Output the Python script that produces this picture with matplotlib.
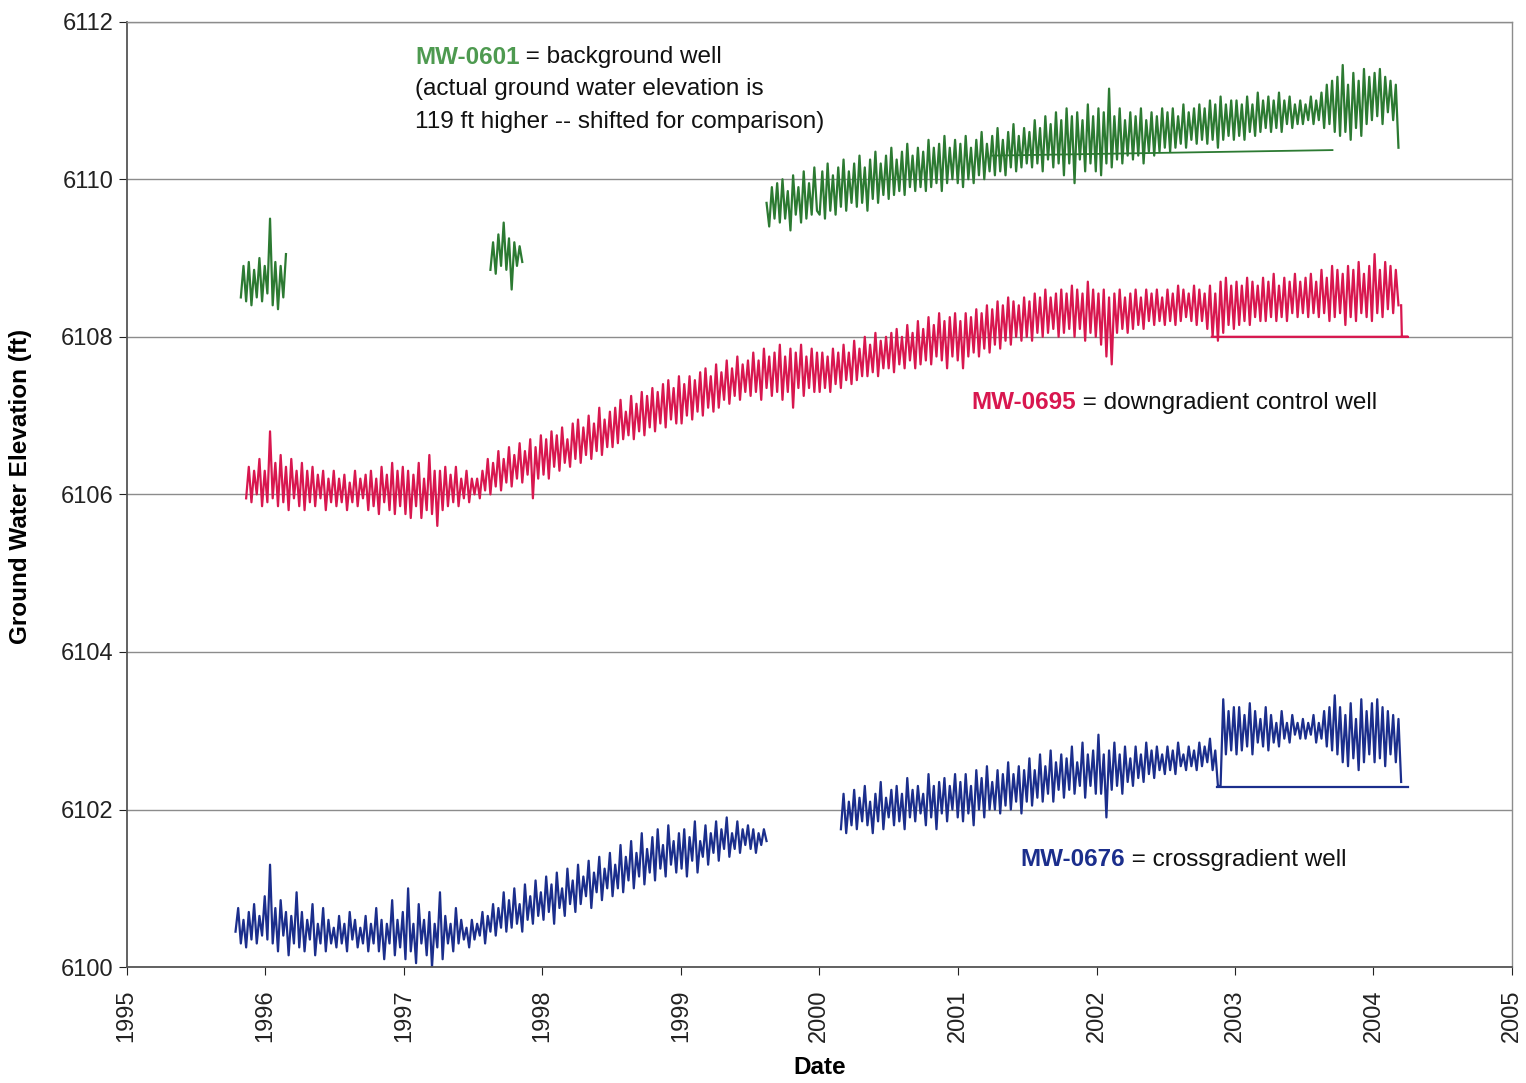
import matplotlib
matplotlib.use('Agg')
import matplotlib.pyplot as plt
import matplotlib.dates as mdates
import pandas as pd

plt.rcParams['font.family'] = ['Liberation Sans', 'DejaVu Sans']

green_c = '#2c7a32'
green_txt = '#4e9a50'
red_c = '#d8174f'
blue_c = '#1b2e8c'

# MW-0601 (shifted by -119 ft), weekly readings, three pieces
green1_start = '1995-10-29'
green1_vals = [6108.5, 6108.9, 6108.45, 6108.95, 6108.4, 6108.85, 6108.5, 6109.0, 6108.45,
               6108.9, 6108.55, 6109.5, 6108.4, 6108.95, 6108.35, 6108.9, 6108.5, 6109.05]
green2_start = '1997-08-17'
green2_vals = [6108.85, 6109.2, 6108.8, 6109.3, 6108.9, 6109.45, 6108.85, 6109.25, 6108.6,
               6109.2, 6108.9, 6109.15, 6108.95]
green3_start = '1999-08-15'
green3_vals = [
    6109.7, 6109.4, 6109.9, 6109.5, 6109.95, 6109.45, 6110.0, 6109.5, 6109.85, 6109.35,
    6110.05, 6109.55, 6109.9, 6109.45, 6110.1, 6109.5, 6109.95, 6109.55, 6110.15, 6109.6,
    # 2000
    6109.55, 6110.1, 6109.5, 6110.2, 6109.6, 6110.05, 6109.55, 6110.15, 6109.65, 6110.25, 6109.6, 6110.1, 6109.7,
    6110.2, 6109.65, 6110.3, 6109.7, 6110.15, 6109.6, 6110.25, 6109.75, 6110.35, 6109.7, 6110.2, 6109.8, 6110.3,
    6109.75, 6110.4, 6109.8, 6110.25, 6109.85, 6110.35, 6109.8, 6110.45, 6109.9, 6110.3, 6109.85, 6110.4, 6109.9,
    6110.35, 6109.85, 6110.5, 6109.9, 6110.4, 6109.95, 6110.45, 6109.85, 6110.55, 6109.95, 6110.4, 6110.0, 6110.5,
    # 2001
    6109.95, 6110.45, 6109.9, 6110.55, 6110.0, 6110.4, 6109.95, 6110.5, 6110.05, 6110.6, 6110.0, 6110.45, 6110.1,
    6110.55, 6110.05, 6110.65, 6110.1, 6110.5, 6110.05, 6110.6, 6110.15, 6110.7, 6110.1, 6110.55, 6110.15, 6110.65,
    6110.2, 6110.6, 6110.15, 6110.75, 6110.2, 6110.65, 6110.1, 6110.8, 6110.25, 6110.7, 6110.15, 6110.85, 6110.2,
    6110.75, 6110.05, 6110.9, 6110.2, 6110.8, 6109.95, 6110.85, 6110.25, 6110.75, 6110.1, 6110.95, 6110.2, 6110.8,
    # 2002
    6110.1, 6110.9, 6110.05, 6110.85, 6110.2, 6111.15, 6110.15, 6110.8, 6110.25, 6110.9, 6110.2, 6110.75, 6110.3,
    6110.85, 6110.25, 6110.8, 6110.3, 6110.9, 6110.2, 6110.75, 6110.35, 6110.85, 6110.3, 6110.8, 6110.35, 6110.9,
    6110.4, 6110.85, 6110.35, 6110.9, 6110.4, 6110.8, 6110.45, 6110.95, 6110.4, 6110.85, 6110.5, 6110.9, 6110.45,
    6110.95, 6110.5, 6110.9, 6110.45, 6111.0, 6110.5, 6110.95, 6110.4, 6111.05, 6110.5, 6110.95, 6110.55, 6111.0,
    # 2003
    6110.5, 6111.0, 6110.55, 6110.95, 6110.5, 6111.05, 6110.6, 6110.95, 6110.55, 6111.1, 6110.6, 6111.0, 6110.65,
    6111.05, 6110.6, 6111.0, 6110.65, 6111.1, 6110.6, 6111.0, 6110.7, 6111.05, 6110.65, 6110.95, 6110.7, 6111.0,
    6110.7, 6110.95, 6110.75, 6111.05, 6110.7, 6111.0, 6110.75, 6111.1, 6110.65, 6111.2, 6110.7, 6111.25, 6110.6,
    6111.3, 6110.55, 6111.45, 6110.6, 6111.2, 6110.5, 6111.35, 6110.65, 6111.25, 6110.55, 6111.4, 6110.7, 6111.3,
    # 2004
    6110.75, 6111.35, 6110.8, 6111.4, 6110.7, 6111.3, 6110.85, 6111.25, 6110.75, 6111.2, 6110.4]
green_flat_dates = ['2001-04-01', '2003-09-15']
green_flat_vals = [6110.3, 6110.37]

# MW-0695, weekly
red_start = '1995-11-12'
red_vals = [
    6105.95, 6106.35, 6105.9, 6106.3, 6106.0, 6106.45, 6105.85, 6106.3,
    # 1996
    6105.9, 6106.8, 6105.95, 6106.4, 6105.85, 6106.5, 6105.9, 6106.35, 6105.8, 6106.45, 6105.95, 6106.3, 6105.85,
    6106.4, 6105.8, 6106.3, 6105.9, 6106.35, 6105.85, 6106.25, 6105.95, 6106.3, 6105.8, 6106.2, 6105.9, 6106.3,
    6105.85, 6106.2, 6105.9, 6106.25, 6105.8, 6106.15, 6105.9, 6106.3, 6105.85, 6106.2, 6105.95, 6106.25, 6105.8,
    6106.3, 6105.85, 6106.2, 6105.75, 6106.35, 6105.9, 6106.25, 6105.8, 6106.4, 6105.75, 6106.3, 6105.85, 6106.35,
    # 1997
    6105.75, 6106.3, 6105.7, 6106.25, 6105.85, 6106.4, 6105.7, 6106.2, 6105.8, 6106.5, 6105.75, 6106.3, 6105.6,
    6106.3, 6105.8, 6106.35, 6105.85, 6106.25, 6105.9, 6106.35, 6105.85, 6106.2, 6105.95, 6106.3, 6105.9, 6106.2,
    6106.0, 6106.2, 6105.95, 6106.3, 6106.05, 6106.45, 6106.0, 6106.4, 6106.1, 6106.55, 6106.05, 6106.45, 6106.15,
    6106.6, 6106.1, 6106.5, 6106.2, 6106.65, 6106.15, 6106.55, 6106.25, 6106.7, 6105.95, 6106.6, 6106.2, 6106.75,
    # 1998
    6106.25, 6106.7, 6106.2, 6106.8, 6106.35, 6106.75, 6106.3, 6106.85, 6106.4, 6106.7, 6106.35, 6106.9, 6106.45,
    6106.95, 6106.4, 6106.85, 6106.5, 6107.0, 6106.45, 6106.9, 6106.55, 6107.1, 6106.5, 6106.95, 6106.6, 6107.05,
    6106.6, 6107.1, 6106.65, 6107.2, 6106.7, 6107.05, 6106.75, 6107.25, 6106.7, 6107.15, 6106.8, 6107.3, 6106.75,
    6107.25, 6106.85, 6107.35, 6106.8, 6107.3, 6106.9, 6107.4, 6106.85, 6107.45, 6106.95, 6107.35, 6106.9, 6107.5,
    # 1999
    6106.9, 6107.4, 6107.0, 6107.5, 6106.95, 6107.45, 6107.05, 6107.55, 6107.0, 6107.6, 6107.1, 6107.5, 6107.05,
    6107.65, 6107.1, 6107.55, 6107.2, 6107.7, 6107.15, 6107.6, 6107.25, 6107.75, 6107.2, 6107.65, 6107.3, 6107.7,
    6107.25, 6107.8, 6107.3, 6107.7, 6107.2, 6107.85, 6107.35, 6107.75, 6107.25, 6107.8, 6107.3, 6107.9, 6107.2,
    6107.75, 6107.3, 6107.85, 6107.1, 6107.8, 6107.35, 6107.9, 6107.25, 6107.75, 6107.35, 6107.85, 6107.3, 6107.8,
    # 2000
    6107.3, 6107.8, 6107.35, 6107.75, 6107.3, 6107.85, 6107.4, 6107.8, 6107.35, 6107.9, 6107.45, 6107.8, 6107.4,
    6107.95, 6107.45, 6107.85, 6107.5, 6108.0, 6107.5, 6107.9, 6107.55, 6108.05, 6107.5, 6107.95, 6107.6, 6108.0,
    6107.6, 6108.05, 6107.55, 6108.1, 6107.65, 6108.0, 6107.6, 6108.15, 6107.7, 6108.05, 6107.6, 6108.2, 6107.65,
    6108.1, 6107.7, 6108.25, 6107.65, 6108.15, 6107.75, 6108.3, 6107.7, 6108.2, 6107.6, 6108.25, 6107.75, 6108.3,
    # 2001
    6107.7, 6108.2, 6107.6, 6108.3, 6107.75, 6108.25, 6107.8, 6108.35, 6107.75, 6108.3, 6107.85, 6108.4, 6107.8,
    6108.35, 6107.9, 6108.45, 6107.85, 6108.4, 6107.95, 6108.5, 6107.9, 6108.45, 6108.0, 6108.4, 6107.95, 6108.5,
    6108.0, 6108.45, 6107.95, 6108.55, 6108.05, 6108.5, 6108.0, 6108.6, 6108.05, 6108.5, 6108.1, 6108.55, 6108.0,
    6108.6, 6108.05, 6108.55, 6108.1, 6108.65, 6108.0, 6108.6, 6108.1, 6108.55, 6107.95, 6108.7, 6108.05, 6108.6,
    # 2002
    6108.0, 6108.55, 6107.9, 6108.6, 6107.75, 6108.5, 6107.65, 6108.55, 6108.05, 6108.6, 6108.1, 6108.5, 6108.05,
    6108.55, 6108.1, 6108.6, 6108.15, 6108.5, 6108.1, 6108.6, 6108.2, 6108.55, 6108.15, 6108.6, 6108.2, 6108.5,
    6108.15, 6108.6, 6108.2, 6108.55, 6108.15, 6108.65, 6108.2, 6108.6, 6108.25, 6108.55, 6108.2, 6108.65, 6108.15,
    6108.6, 6108.2, 6108.55, 6108.1, 6108.65, 6108.0, 6108.55, 6107.95, 6108.7, 6108.05, 6108.75, 6108.15, 6108.65,
    # 2003
    6108.1, 6108.7, 6108.15, 6108.65, 6108.2, 6108.75, 6108.15, 6108.7, 6108.25, 6108.65, 6108.2, 6108.75, 6108.2,
    6108.7, 6108.25, 6108.8, 6108.2, 6108.65, 6108.25, 6108.75, 6108.2, 6108.7, 6108.3, 6108.8, 6108.25, 6108.7,
    6108.3, 6108.75, 6108.25, 6108.8, 6108.3, 6108.7, 6108.25, 6108.85, 6108.3, 6108.75, 6108.2, 6108.9, 6108.25,
    6108.85, 6108.3, 6108.8, 6108.15, 6108.9, 6108.25, 6108.85, 6108.2, 6108.95, 6108.3, 6108.8, 6108.25, 6108.9,
    # 2004
    6108.2, 6109.05, 6108.3, 6108.85, 6108.25, 6108.95, 6108.35, 6108.9, 6108.3, 6108.85, 6108.4]
red_tail_dates = ['2004-03-14', '2004-03-16', '2004-04-01', '2002-11-01']
red_tail_vals = [6108.4, 6108.0, 6108.0, 6108.0]

# MW-0676, weekly, two pieces
blue1_start = '1995-10-15'
blue1_vals = [
    6100.45, 6100.75, 6100.3, 6100.6, 6100.25, 6100.7, 6100.35, 6100.8, 6100.3, 6100.65, 6100.4, 6100.9,
    # 1996
    6100.35, 6101.3, 6100.3, 6100.75, 6100.2, 6100.85, 6100.4, 6100.7, 6100.15, 6100.65, 6100.3, 6100.95, 6100.25,
    6100.7, 6100.2, 6100.6, 6100.35, 6100.8, 6100.15, 6100.55, 6100.3, 6100.75, 6100.2, 6100.6, 6100.3, 6100.5,
    6100.25, 6100.65, 6100.3, 6100.55, 6100.2, 6100.7, 6100.35, 6100.6, 6100.25, 6100.5, 6100.3, 6100.65, 6100.2,
    6100.55, 6100.3, 6100.75, 6100.2, 6100.6, 6100.1, 6100.55, 6100.3, 6100.85, 6100.15, 6100.6, 6100.25, 6100.7,
    # 1997
    6100.1, 6101.0, 6100.2, 6100.55, 6100.05, 6100.8, 6100.3, 6100.6, 6100.15, 6100.7, 6100.0, 6100.55, 6100.25,
    6100.95, 6100.1, 6100.65, 6100.3, 6100.55, 6100.2, 6100.75, 6100.3, 6100.6, 6100.35, 6100.5, 6100.25, 6100.6,
    6100.35, 6100.55, 6100.4, 6100.7, 6100.3, 6100.65, 6100.45, 6100.8, 6100.4, 6100.75, 6100.5, 6100.95, 6100.45,
    6100.85, 6100.5, 6101.0, 6100.55, 6100.8, 6100.45, 6101.05, 6100.6, 6100.9, 6100.55, 6101.1, 6100.65, 6100.95,
    # 1998
    6100.6, 6101.15, 6100.7, 6101.05, 6100.55, 6101.2, 6100.75, 6101.0, 6100.65, 6101.25, 6100.8, 6101.1, 6100.7,
    6101.3, 6100.8, 6101.15, 6100.9, 6101.35, 6100.75, 6101.2, 6100.95, 6101.4, 6100.85, 6101.25, 6101.0, 6101.45,
    6100.9, 6101.3, 6101.0, 6101.55, 6100.95, 6101.4, 6101.1, 6101.6, 6101.0, 6101.45, 6101.15, 6101.7, 6101.05,
    6101.5, 6101.2, 6101.65, 6101.1, 6101.75, 6101.25, 6101.55, 6101.15, 6101.8, 6101.3, 6101.6, 6101.2, 6101.7,
    # 1999
    6101.25, 6101.75, 6101.15, 6101.65, 6101.35, 6101.85, 6101.2, 6101.6, 6101.4, 6101.8, 6101.3, 6101.7, 6101.45,
    6101.85, 6101.35, 6101.75, 6101.5, 6101.9, 6101.4, 6101.7, 6101.5, 6101.85, 6101.45, 6101.75, 6101.55, 6101.8,
    6101.5, 6101.75, 6101.45, 6101.7, 6101.55, 6101.75, 6101.6]
blue2_start = '2000-02-27'
blue2_vals = [
    6101.75, 6102.2, 6101.7, 6102.1, 6101.8, 6102.25, 6101.75, 6102.15, 6101.85, 6102.3, 6101.8, 6102.1, 6101.7,
    6102.2, 6101.85, 6102.35, 6101.75, 6102.15, 6101.9, 6102.25, 6101.8, 6102.3, 6101.85, 6102.2, 6101.75, 6102.4,
    6101.9, 6102.25, 6101.85, 6102.3, 6101.95, 6102.2, 6101.8, 6102.45, 6101.9, 6102.3, 6101.75, 6102.35, 6101.95,
    6102.4, 6101.85, 6102.3, 6102.0, 6102.45, 6101.9,
    # 2001
    6102.35, 6101.85, 6102.45, 6101.95, 6102.3, 6101.8, 6102.5, 6102.0, 6102.4, 6101.9, 6102.55, 6102.0, 6102.35,
    6102.0, 6102.5, 6101.95, 6102.45, 6102.05, 6102.6, 6102.0, 6102.45, 6102.1, 6102.55, 6101.95, 6102.5, 6102.1,
    6102.65, 6102.05, 6102.5, 6102.15, 6102.7, 6102.1, 6102.55, 6102.2, 6102.75, 6102.1, 6102.6, 6102.25, 6102.7,
    6102.15, 6102.65, 6102.25, 6102.8, 6102.2, 6102.6, 6102.3, 6102.85, 6102.15, 6102.7, 6102.3, 6102.75, 6102.2,
    # 2002
    6102.95, 6102.2, 6102.7, 6101.9, 6102.75, 6102.25, 6102.85, 6102.3, 6102.7, 6102.2, 6102.8, 6102.35, 6102.65,
    6102.3, 6102.8, 6102.4, 6102.7, 6102.35, 6102.85, 6102.45, 6102.75, 6102.4, 6102.8, 6102.5, 6102.7, 6102.45,
    6102.8, 6102.5, 6102.75, 6102.45, 6102.85, 6102.55, 6102.7, 6102.5, 6102.8, 6102.55, 6102.75, 6102.5, 6102.85,
    6102.55, 6102.8, 6102.6, 6102.9, 6102.5, 6102.75, 6102.3, 6102.3, 6103.4, 6102.7, 6103.25, 6102.75, 6103.3,
    # 2003
    6102.7, 6103.3, 6102.75, 6103.2, 6102.8, 6103.35, 6102.7, 6103.25, 6102.85, 6103.15, 6102.8, 6103.3, 6102.75,
    6103.2, 6102.85, 6103.1, 6102.8, 6103.25, 6102.9, 6103.1, 6102.85, 6103.2, 6102.95, 6103.1, 6102.9, 6103.15,
    6102.9, 6103.1, 6102.95, 6103.2, 6102.85, 6103.1, 6102.9, 6103.25, 6102.8, 6103.3, 6102.75, 6103.45, 6102.7,
    6103.3, 6102.6, 6103.2, 6102.55, 6103.35, 6102.65, 6103.15, 6102.5, 6103.4, 6102.6, 6103.25, 6102.7, 6103.35,
    # 2004
    6102.6, 6103.4, 6102.65, 6103.3, 6102.55, 6103.25, 6102.7, 6103.2, 6102.6, 6103.15, 6102.35]
blue_flat_dates = ['2002-11-15', '2004-04-01']
blue_flat_vals = [6102.29, 6102.29]

years = list(range(1995, 2006))
y_ticks = [6100, 6102, 6104, 6106, 6108, 6110, 6112]


def weekly(start, vals):
    return pd.date_range(start, periods=len(vals), freq='7D')


fig = plt.figure(figsize=(15.26, 10.83), dpi=100)
ax = fig.add_axes([0.083, 0.107, 0.908, 0.873])

lw = 1.6
ax.plot(weekly(green1_start, green1_vals), green1_vals, color=green_c, lw=lw)
ax.plot(weekly(green2_start, green2_vals), green2_vals, color=green_c, lw=lw)
ax.plot(weekly(green3_start, green3_vals), green3_vals, color=green_c, lw=lw)
ax.plot(pd.to_datetime(green_flat_dates), green_flat_vals, color=green_c, lw=1.3)

ax.plot(weekly(red_start, red_vals), red_vals, color=red_c, lw=lw)
ax.plot(pd.to_datetime(red_tail_dates), red_tail_vals, color=red_c, lw=1.6)

ax.plot(weekly(blue1_start, blue1_vals), blue1_vals, color=blue_c, lw=lw)
ax.plot(weekly(blue2_start, blue2_vals), blue2_vals, color=blue_c, lw=lw)
ax.plot(pd.to_datetime(blue_flat_dates), blue_flat_vals, color=blue_c, lw=1.6)

ax.set_xlim(pd.Timestamp('1995-01-01'), pd.Timestamp('2005-01-01'))
ax.set_ylim(6100, 6112)
ax.set_yticks(y_ticks)
ax.set_xticks([pd.Timestamp(f'{y}-01-01') for y in years])
ax.xaxis.set_major_formatter(mdates.DateFormatter('%Y'))
plt.setp(ax.get_xticklabels(), rotation=90)
ax.tick_params(axis='both', labelsize=17, colors='#222222', length=6, direction='out')
ax.tick_params(axis='x', pad=10)

ax.grid(axis='y', color='#8c8c8c', lw=1)
for s in ['left', 'bottom']:
    ax.spines[s].set_color('#555555')
    ax.spines[s].set_linewidth(1.3)
for s in ['top', 'right']:
    ax.spines[s].set_color('#8c8c8c')
    ax.spines[s].set_linewidth(1)

ax.set_ylabel('Ground Water Elevation (ft)', fontsize=17.5, fontweight='bold')
ax.yaxis.set_label_coords(-0.068, 0.508)
ax.set_xlabel('Date', fontsize=17.5, fontweight='bold', labelpad=10)

txt_size = 17.5


def label(x, y, name, color, rest):
    t = ax.text(pd.Timestamp(x), y, name, color=color, fontsize=txt_size,
                fontweight='bold', va='center', ha='left')
    ax.annotate(rest, xy=(1, 0.5), xycoords=t, va='center', ha='left',
                fontsize=txt_size, color='#111111')


label('1997-01-30', 6111.55, 'MW-0601', green_txt, ' = background well')
ax.text(pd.Timestamp('1997-01-30'), 6111.14, '(actual ground water elevation is',
        fontsize=txt_size, va='center', ha='left', color='#111111')
ax.text(pd.Timestamp('1997-01-30'), 6110.73, '119 ft higher -- shifted for comparison)',
        fontsize=txt_size, va='center', ha='left', color='#111111')
label('2001-02-05', 6107.16, 'MW-0695', red_c, ' = downgradient control well')
label('2001-06-15', 6101.36, 'MW-0676', blue_c, ' = crossgradient well')

fig.savefig('out.png', dpi=100)
